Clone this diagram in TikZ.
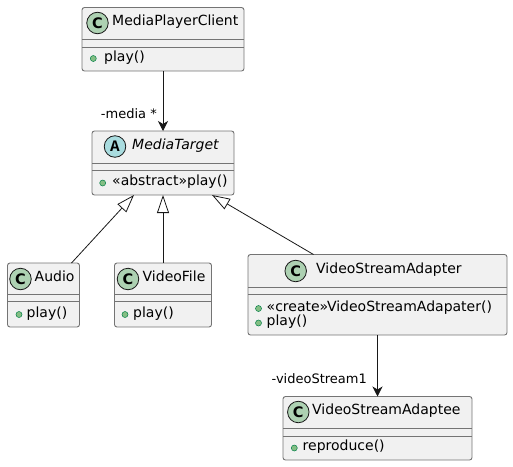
\documentclass[tikz,border=0pt]{standalone}
\usepackage{fontspec}
\setmainfont{DejaVu Sans}
\newfontfamily\iconmono{Liberation Mono}
\usetikzlibrary{arrows.meta}
\definecolor{boxfill}{HTML}{F1F1F1}
\definecolor{boxline}{HTML}{181818}
\definecolor{cicon}{HTML}{ADD1B2}
\definecolor{aicon}{HTML}{A9DCDF}
\definecolor{dotfill}{HTML}{84BE84}
\definecolor{dotline}{HTML}{038048}
\tikzset{
  classbox/.style={draw=boxline!60, fill=boxfill, line width=0.9pt, rounded corners=2.5pt, inner sep=0pt, outer sep=0pt},
  sepline/.style={draw=boxline!60, line width=0.9pt},
  icon/.style={circle, draw=boxline, line width=0.8pt, minimum size=21.5pt, inner sep=0pt, font=\fontsize{14.5}{14.5}\selectfont\bfseries},
  cname/.style={anchor=mid west, inner sep=0pt, font=\fontsize{14}{16}\selectfont},
  member/.style={anchor=mid west, inner sep=0pt, font=\fontsize{14}{16}\selectfont},
  vis/.style={circle, draw=dotline, fill=dotfill, line width=0.5pt, minimum size=6pt, inner sep=0pt},
  inh/.style={draw=boxline, line width=0.8pt, -{Triangle[length=18pt,width=12pt,fill=white]}},
  assoc/.style={draw=boxline, line width=0.8pt, -{Stealth[length=10pt,width=10pt,inset=3pt]}},
  lbl/.style={anchor=mid east, inner sep=0pt, font=\fontsize{13}{15}\selectfont}
}
\begin{document}
\begin{tikzpicture}[x=1pt,y=-1pt]
\useasboundingbox (0,0) rectangle (513,466);

% MediaPlayerClient
\node[classbox, minimum width=162pt, minimum height=63.5pt] (mpc) at (163,39.25) {};
\draw[sepline] (mpc.north west) ++(0,31.5) -- ++(162,0);
\draw[sepline] (mpc.north west) ++(0,39.5) -- ++(162,0);
\node[icon, fill=cicon] (mpcicon) at (97.5,23) {C};
\node[cname] (mpcname) at (112,23) {MediaPlayerClient};
\node[vis] (mpcv1) at (93.3,58.5) {};
\node[member] (mpcm1) at (104,58.5) {play()};

% MediaTarget
\node[classbox, minimum width=142pt, minimum height=64pt] (mt) at (163,163) {};
\draw[sepline] (mt.north west) ++(0,32) -- ++(142,0);
\draw[sepline] (mt.north west) ++(0,39.5) -- ++(142,0);
\node[icon, fill=aicon, font=\fontsize{16}{16}\selectfont\iconmono\bfseries] (mticon) at (115,146.5) {A};
\node[cname, font=\fontsize{14}{16}\selectfont\itshape] (mtname) at (132,147) {MediaTarget};
\node[vis] (mtv1) at (102.7,183) {};
\node[member] (mtm1) at (112,183) {«abstract»play()};

% Audio
\node[classbox, minimum width=72pt, minimum height=64pt] (audio) at (43.5,295) {};
\draw[sepline] (audio.north west) ++(0,31) -- ++(72,0);
\draw[sepline] (audio.north west) ++(0,38) -- ++(72,0);
\node[icon, fill=cicon] (audioicon) at (20.5,279) {C};
\node[cname] (audioname) at (34.5,279) {Audio};
\node[vis] (audiov1) at (19,314.5) {};
\node[member] (audiom1) at (26.5,314.5) {play()};

% VideoFile
\node[classbox, minimum width=97pt, minimum height=64pt] (vf) at (163,295) {};
\draw[sepline] (vf.north west) ++(0,31) -- ++(97,0);
\draw[sepline] (vf.north west) ++(0,38) -- ++(97,0);
\node[icon, fill=cicon] (vficon) at (128,279) {C};
\node[cname] (vfname) at (142.5,279) {VideoFile};
\node[vis] (vfv1) at (125,314.5) {};
\node[member] (vfm1) at (133,314.5) {play()};

% VideoStreamAdapter
\node[classbox, minimum width=259pt, minimum height=80.5pt] (vsa) at (377.5,294.75) {};
\draw[sepline] (vsa.north west) ++(0,32.5) -- ++(259,0);
\draw[sepline] (vsa.north west) ++(0,40) -- ++(259,0);
\node[icon, fill=cicon] (vsaicon) at (295.7,271) {C};
\node[cname] (vsaname) at (316,271) {VideoStreamAdapter};
\node[vis] (vsav1) at (258.5,308.5) {};
\node[member] (vsam1) at (266.5,308.5) {«create»VideoStreamAdapater()};
\node[vis] (vsav2) at (258.5,323) {};
\node[member] (vsam2) at (266.5,323) {play()};

% VideoStreamAdaptee
\node[classbox, minimum width=189pt, minimum height=63.5pt] (vse) at (377.5,428.25) {};
\draw[sepline] (vse.north west) ++(0,32) -- ++(189,0);
\draw[sepline] (vse.north west) ++(0,39.5) -- ++(189,0);
\node[icon, fill=cicon] (vseicon) at (298.3,412) {C};
\node[cname] (vsename) at (312,412) {VideoStreamAdaptee};
\node[vis] (vsev1) at (294.3,448) {};
\node[member] (vsem1) at (302.5,448) {reproduce()};

% Connectors
\draw[assoc] (mpc) -- (mt);
\node[lbl] (lmedia) at (157,116) {-media *};
\draw[inh] ([xshift=28pt]audio.north) -- ([xshift=-29pt]mt.south);
\draw[inh] (vf) -- (mt);
\draw[inh] ([xshift=-64pt]vsa.north) -- ([xshift=49pt]mt.south);
\draw[assoc] (vsa) -- (vse);
\node[lbl] (lvs) at (367,381) {-videoStream1};
\end{tikzpicture}
\end{document}
